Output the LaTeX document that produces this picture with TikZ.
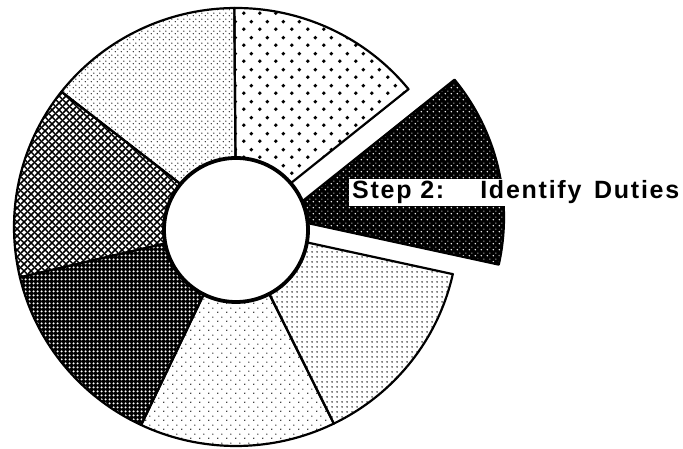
\documentclass[tikz,border=0pt]{standalone}
\usepackage{fontspec}
\newfontfamily\stepfont{Liberation Sans}[LetterSpace=7]
\usetikzlibrary{patterns.meta}

% halftone fills of the wedges
\tikzdeclarepattern{name=heartdots, type=uncolored,
  bottom left={(0pt,0pt)}, top right={(16pt,16pt)}, tile size={(16pt,16pt)},
  code={\tikzset{x=1pt,y=1pt} \fill (4,4) circle (2.1); \fill (12,12) circle (2.1);}}
\tikzdeclarepattern{name=finedots, type=uncolored,
  bottom left={(0pt,0pt)}, top right={(6pt,6pt)}, tile size={(6pt,6pt)},
  code={\tikzset{x=1pt,y=1pt} \fill (1.5,1.5) circle (0.75); \fill (4.5,4.5) circle (0.75);}}
\tikzdeclarepattern{name=diamonds, type=uncolored,
  bottom left={(0pt,0pt)}, top right={(7pt,7pt)}, tile size={(7pt,7pt)},
  code={\tikzset{x=1pt,y=1pt} \draw[line width=1.7pt] (-1,-1) -- (8,8) (-1,8) -- (8,-1);}}
\tikzdeclarepattern{name=holes, type=uncolored,
  bottom left={(0pt,0pt)}, top right={(4pt,4pt)}, tile size={(4pt,4pt)},
  code={\tikzset{x=1pt,y=1pt} \fill (2,2) circle (1.4);}}
\tikzdeclarepattern{name=sparsedots, type=uncolored,
  bottom left={(0pt,0pt)}, top right={(9pt,9pt)}, tile size={(9pt,9pt)},
  code={\tikzset{x=1pt,y=1pt} \fill (2,2) circle (0.8); \fill (6.5,6.5) circle (0.8);}}
\tikzdeclarepattern{name=middots, type=uncolored,
  bottom left={(0pt,0pt)}, top right={(5pt,5pt)}, tile size={(5pt,5pt)},
  code={\tikzset{x=1pt,y=1pt} \fill (2.5,2.5) circle (0.9);}}
\tikzdeclarepattern{name=specks, type=uncolored,
  bottom left={(0pt,0pt)}, top right={(6pt,6pt)}, tile size={(6pt,6pt)},
  code={\tikzset{x=1pt,y=1pt} \fill (1.5,1.5) circle (0.9); \fill (4.5,4.5) circle (0.7);}}

\begin{document}
\begin{tikzpicture}[x=1pt,y=1pt,
    wedge/.style={draw=black, line width=2.2pt, line join=round},
    steplabel/.style={fill=white, font=\stepfont\bfseries\fontsize{25}{25}\selectfont,
      inner xsep=3pt, inner ysep=2pt, text height=18pt, text depth=5pt}]
  \useasboundingbox (0,0) rectangle (683,449);
  \coordinate (c) at (236,222);
  \coordinate (ce) at (282,231.5);
  % Top wedges
  \draw[wedge, pattern=heartdots, pattern color=black] (c) -- ++(39:222 and 219)
    arc[start angle=39, end angle=90.43, x radius=222, y radius=219] -- cycle;
  \draw[wedge, pattern=finedots, pattern color=black] (c) -- ++(90.43:222 and 219)
    arc[start angle=90.43, end angle=141.86, x radius=222, y radius=219] -- cycle;
  % Left wedges
  \draw[wedge, pattern=diamonds, pattern color=black] (c) -- ++(141.86:222 and 219)
    arc[start angle=141.86, end angle=193.29, x radius=222, y radius=219] -- cycle;
  \draw[wedge, preaction={fill=black}, pattern=holes, pattern color=white] (c) -- ++(193.29:222 and 219)
    arc[start angle=193.29, end angle=244.71, x radius=222, y radius=219] -- cycle;
  % Bottom wedges
  \draw[wedge, pattern=sparsedots, pattern color=black] (c) -- ++(244.71:222 and 219)
    arc[start angle=244.71, end angle=296.14, x radius=222, y radius=219] -- cycle;
  \draw[wedge, pattern=middots, pattern color=black] (c) -- ++(296.14:222 and 219)
    arc[start angle=296.14, end angle=347.57, x radius=222, y radius=219] -- cycle;
  % Pulled-out wedge
  \draw[wedge, preaction={fill=black}, pattern=specks, pattern color=white] (ce) -- ++(347.57:222 and 219)
    arc[start angle=347.57, end angle=399, x radius=222, y radius=219] -- cycle;
  % Hole
  \draw[line width=3.8pt, fill=white] (236,219) circle [radius=72];
  % Label
  \node[steplabel, anchor=base west] (step2) at (349,250) {Step 2:\hspace{36pt}Identify\hspace{4pt} Duties};
\end{tikzpicture}
\end{document}
